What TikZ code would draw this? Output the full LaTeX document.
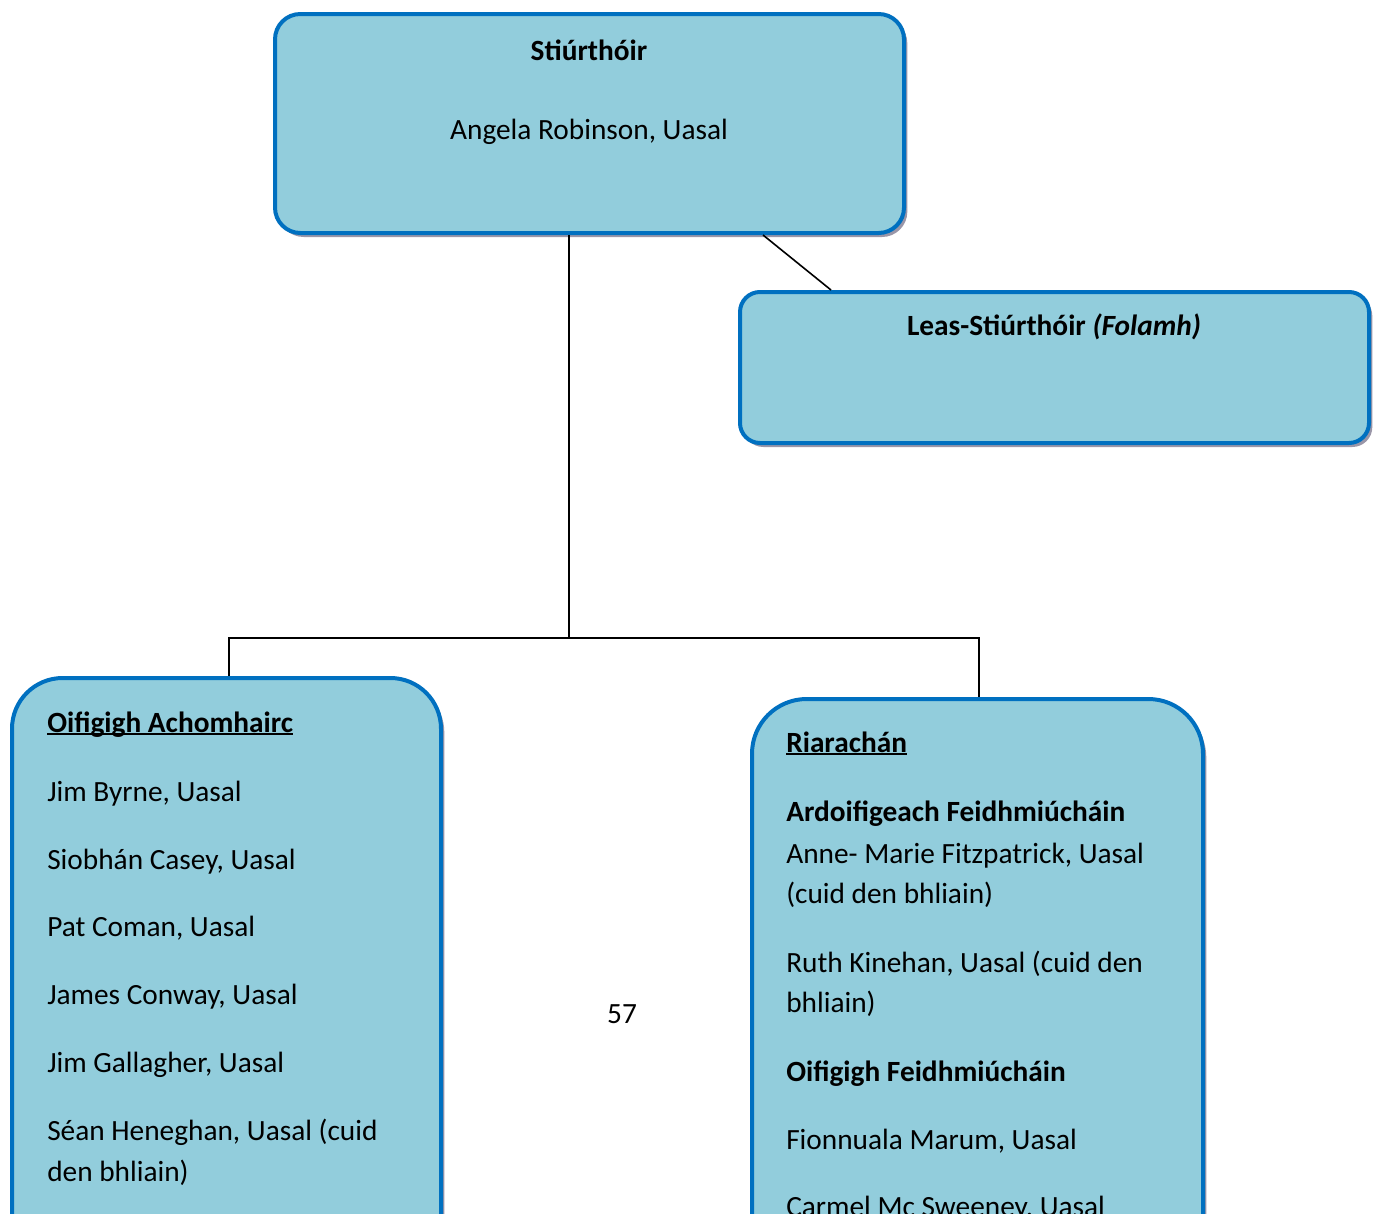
\documentclass[tikz,border=0pt]{standalone}
\usepackage{fontspec}
\setmainfont{Carlito}
\usetikzlibrary{fit,shadows}
\definecolor{boxfill}{HTML}{92CDDC}
\definecolor{boxline}{HTML}{0070C0}
\definecolor{shadowc}{HTML}{9A96A8}
\newcommand\myul[1]{\setbox0\hbox{#1}\rlap{\rule[-2.4pt]{\wd0}{1.4pt}}\box0}
\tikzset{
  orgbox/.style={draw=boxline, fill=boxfill, line width=3pt, inner sep=0pt,
    drop shadow={shadow xshift=2.5pt, shadow yshift=-3pt, fill=shadowc, opacity=1}},
  conn/.style={draw=black, line width=1.2pt},
  txt/.style={inner sep=0pt, font=\fontsize{22}{26}\selectfont},
  lt/.style={txt, anchor=base west},
  ct/.style={txt, anchor=base},
}
\begin{document}
\begin{tikzpicture}[x=0.75pt, y=-0.75pt]
\clip (0,0) rectangle (1382,1214);
\fill[white] (0,0) rectangle (1382,1214);
% boxes
\node[orgbox, rounded corners=19pt, fit={(275,14) (904,233)}] (dir) {};
\node[orgbox, rounded corners=15pt, fit={(740,292) (1369,443)}] (leas) {};
\node[orgbox, rounded corners=38pt, fit={(12,678) (441,1320)}] (appeal) {};
\node[orgbox, rounded corners=41pt, fit={(752,699) (1203,1320)}] (riar) {};
% connectors
\coordinate (j) at (569,638);
\coordinate (aj) at (229,0);
\coordinate (rj) at (979,0);
\coordinate (dj) at (763,0);
\coordinate (lj) at (831,0);
\draw[conn] (dir.south -| j) -- (j);
\draw[conn] (appeal.north -| aj) |- (j) -| (riar.north -| rj);
\draw[conn] (dir.south -| dj) -- (leas.north -| lj);
% texts
\node[ct] (t1) at (589,60) {\textbf{Stiúrthóir}};
\node[ct] (t2) at (589,139) {Angela Robinson, Uasal};
\node[ct] (t3) at (1054,335) {\textbf{Leas-Stiúrthóir \textit{(Folamh)}}};
\node[lt] (a0) at (47,732) {\textbf{\myul{Oifigigh Achomhairc}}};
\node[lt] (a1) at (47,801) {Jim Byrne, Uasal};
\node[lt] (a2) at (47,869) {Siobhán Casey, Uasal};
\node[lt] (a3) at (47,936) {Pat Coman, Uasal};
\node[lt] (a4) at (47,1004) {James Conway, Uasal};
\node[lt] (a5) at (47,1072) {Jim Gallagher, Uasal};
\node[lt] (a6) at (47,1140) {Séan Heneghan, Uasal (cuid};
\node[lt] (a7) at (47,1181) {den bhliain)};
\node[lt] (r0) at (786,752) {\textbf{\myul{Riarachán}}};
\node[lt] (r1) at (786,821) {\textbf{Ardoifigeach Feidhmiúcháin}};
\node[lt] (r2) at (786,863) {Anne- Marie Fitzpatrick, Uasal};
\node[lt] (r3) at (786,903) {(cuid den bhliain)};
\node[lt] (r4) at (786,972) {Ruth Kinehan, Uasal (cuid den};
\node[lt] (r5) at (786,1012) {bhliain)};
\node[lt] (r6) at (786,1081) {\textbf{Oifigigh Feidhmiúcháin}};
\node[lt] (r7) at (786,1149) {Fionnuala Marum, Uasal};
\node[lt] (r8) at (786,1216) {Carmel Mc Sweeney, Uasal};
\node[ct] (pg) at (622,1023) {57};
\end{tikzpicture}
\end{document}
